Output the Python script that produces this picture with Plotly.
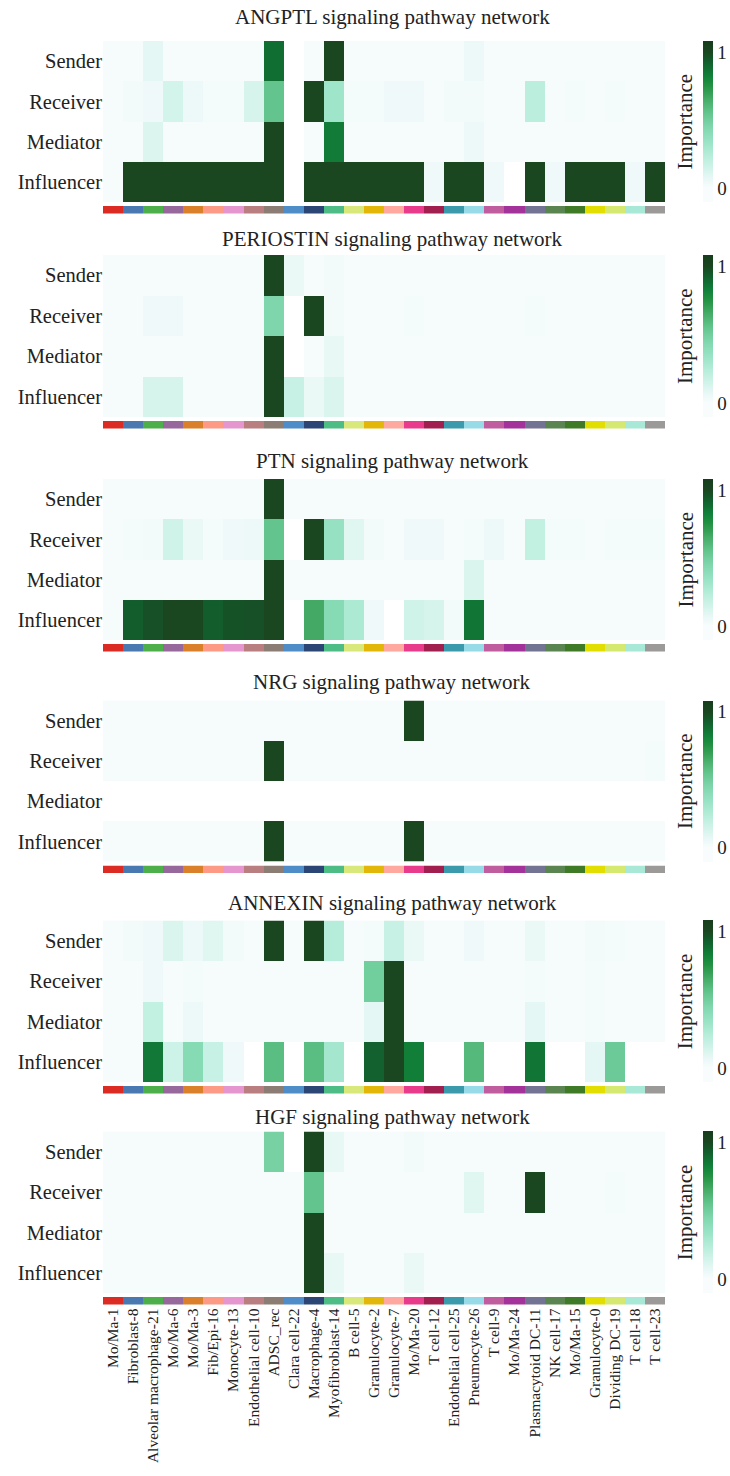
import plotly.graph_objects as go

# Cell groups (columns) and their annotation colours
cell_types = [
    "Mo/Ma-1", "Fibroblast-8", "Alveolar macrophage-21", "Mo/Ma-6", "Mo/Ma-3",
    "Fib/Epi-16", "Monocyte-13", "Endothelial cell-10", "ADSC_rec", "Clara cell-22",
    "Macrophage-4", "Myofibroblast-14", "B cell-5", "Granulocyte-2", "Granulocyte-7",
    "Mo/Ma-20", "T cell-12", "Endothelial cell-25", "Pneumocyte-26", "T cell-9",
    "Mo/Ma-24", "Plasmacytoid DC-11", "NK cell-17", "Mo/Ma-15", "Granulocyte-0",
    "Dividing DC-19", "T cell-18", "T cell-23",
]
cell_colors = [
    "#dc2b22", "#4a78b0", "#4daf4a", "#96689c", "#da7f2a", "#fd9a86", "#e596cf",
    "#b97e80", "#8c7d74", "#4f8dc8", "#2b4675", "#4dbd85", "#d9e87a", "#e3b60a",
    "#fea89f", "#e83b8b", "#a01f4e", "#3b9aab", "#97dbe8", "#c05d9f", "#a3329a",
    "#737393", "#5a8550", "#3f7a26", "#e2df00", "#d5e870", "#a8e8d6", "#9c9a98",
]
roles = ["Sender", "Receiver", "Mediator", "Influencer"]

# Network centrality scores (scaled per role); None = no contribution
angptl = [
    [0.01, 0.01, 0.08, 0.01, 0.01, 0.01, 0.01, 0.01, 0.88, None, 0.01, 1.0, 0.01, 0.01,
     0.01, 0.01, 0.01, 0.01, 0.05, 0.01, 0.01, 0.01, 0.01, 0.01, 0.01, 0.01, 0.01, 0.01],
    [0.01, 0.03, 0.04, 0.14, 0.05, 0.02, 0.02, 0.13, 0.55, None, 1.0, 0.32, 0.02, 0.02,
     0.04, 0.04, 0.01, 0.03, 0.03, 0.01, 0.01, 0.22, 0.01, 0.02, 0.01, 0.02, 0.01, 0.01],
    [0.01, 0.01, 0.11, 0.01, 0.01, 0.01, 0.01, 0.01, 1.0, None, 0.01, 0.84, 0.01, 0.01,
     0.01, 0.01, 0.01, 0.01, 0.05, 0.01, 0.01, 0.01, 0.01, 0.01, 0.01, 0.01, 0.01, 0.01],
    [0.01, 1.0, 1.0, 1.0, 1.0, 1.0, 1.0, 1.0, 1.0, None, 1.0, 1.0, 1.0, 1.0,
     1.0, 1.0, 0.04, 1.0, 1.0, 0.04, None, 1.0, 0.04, 1.0, 1.0, 1.0, 0.04, 1.0],
]
periostin = [
    [0.01, 0.01, 0.01, 0.01, 0.01, 0.01, 0.01, 0.01, 1.0, 0.06, 0.01, 0.03, 0.01, 0.01,
     0.01, 0.01, 0.01, 0.01, 0.01, 0.01, 0.01, 0.01, 0.01, 0.01, 0.01, 0.01, 0.01, 0.01],
    [0.01, 0.01, 0.04, 0.04, 0.01, 0.01, 0.01, 0.01, 0.45, None, 1.0, 0.03, 0.01, 0.01,
     0.01, 0.02, 0.01, 0.01, 0.01, 0.01, 0.01, 0.02, 0.01, 0.01, 0.01, 0.01, 0.01, 0.01],
    [0.01, 0.01, 0.01, 0.01, 0.01, 0.01, 0.01, 0.01, 1.0, None, 0.01, 0.07, 0.01, 0.01,
     0.01, 0.01, 0.01, 0.01, 0.01, 0.01, 0.01, 0.01, 0.01, 0.01, 0.01, 0.01, 0.01, 0.01],
    [0.01, 0.01, 0.13, 0.13, 0.01, 0.01, 0.01, 0.01, 1.0, 0.18, 0.06, 0.12, 0.01, 0.01,
     0.01, 0.01, 0.01, 0.01, 0.01, 0.01, 0.01, 0.01, 0.01, 0.01, 0.01, 0.01, 0.01, 0.01],
]
ptn = [
    [0.01, 0.01, 0.01, 0.01, 0.01, 0.01, 0.01, 0.01, 1.0, 0.01, 0.01, 0.01, 0.01, 0.01,
     0.01, 0.01, 0.01, 0.01, 0.01, 0.01, 0.01, 0.01, 0.01, 0.01, 0.01, 0.01, 0.01, 0.01],
    [0.01, 0.02, 0.03, 0.15, 0.06, 0.02, 0.04, 0.05, 0.55, None, 1.0, 0.36, 0.1, 0.03,
     0.01, 0.04, 0.04, 0.01, 0.02, 0.05, 0.01, 0.2, 0.02, 0.02, 0.01, 0.02, 0.02, 0.02],
    [0.01, 0.01, 0.01, 0.01, 0.01, 0.01, 0.01, 0.01, 1.0, 0.01, 0.01, 0.01, 0.01, 0.01,
     0.01, 0.01, 0.01, 0.01, 0.12, 0.01, 0.01, 0.01, 0.01, 0.01, 0.01, 0.01, 0.01, 0.01],
    [0.01, 0.93, 0.97, 1.0, 1.0, 0.93, 0.96, 0.97, 1.0, None, 0.66, 0.42, 0.27, 0.04,
     None, 0.15, 0.13, 0.03, 0.86, 0.01, 0.01, 0.01, 0.01, 0.01, 0.01, 0.01, 0.01, 0.01],
]
nrg = [
    [0.01, 0.01, 0.01, 0.01, 0.01, 0.01, 0.01, 0.01, 0.01, 0.01, 0.01, 0.01, 0.01, 0.01,
     0.01, 1.0, 0.01, 0.01, 0.01, 0.01, 0.01, 0.01, 0.01, 0.01, 0.01, 0.01, 0.01, 0.01],
    [0.01, 0.01, 0.01, 0.01, 0.01, 0.01, 0.01, 0.01, 1.0, 0.01, 0.01, 0.01, 0.01, 0.01,
     0.01, 0.01, 0.01, 0.01, 0.01, 0.01, 0.01, 0.01, 0.01, 0.01, 0.01, 0.01, 0.01, 0.02],
    [None, None, None, None, None, None, None, None, None, None, None, None, None, None,
     None, None, None, None, None, None, None, None, None, None, None, None, None, None],
    [0.01, 0.01, 0.01, 0.01, 0.01, 0.01, 0.01, 0.01, 1.0, 0.01, 0.01, 0.01, 0.01, 0.01,
     0.01, 1.0, 0.01, 0.01, 0.01, 0.01, 0.01, 0.01, 0.01, 0.01, 0.01, 0.01, 0.01, 0.01],
]
annexin = [
    [0.01, 0.03, 0.04, 0.12, 0.05, 0.1, 0.03, 0.01, 1.0, 0.01, 1.0, 0.24, 0.01, 0.02,
     0.18, 0.06, 0.01, 0.01, 0.04, 0.01, 0.01, 0.06, 0.01, 0.01, 0.03, 0.02, 0.01, 0.01],
    [0.01, 0.01, 0.04, 0.01, 0.02, 0.01, 0.01, 0.01, 0.01, 0.01, 0.01, 0.01, 0.01, 0.5,
     1.0, 0.01, 0.01, 0.01, 0.01, 0.01, 0.01, 0.02, 0.01, 0.01, 0.02, 0.01, 0.01, 0.01],
    [0.01, 0.01, 0.2, 0.01, 0.05, 0.01, 0.01, 0.01, 0.01, 0.01, 0.01, 0.01, 0.01, 0.08,
     1.0, 0.01, 0.01, 0.01, 0.01, 0.01, 0.01, 0.08, 0.01, 0.01, 0.02, 0.01, 0.01, 0.01],
    [0.01, 0.01, 0.85, 0.16, 0.42, 0.18, 0.04, None, 0.58, None, 0.58, 0.3, None, 0.92,
     1.0, 0.83, None, None, 0.6, None, None, 0.86, None, None, 0.08, 0.52, None, None],
]
hgf = [
    [0.01, 0.01, 0.01, 0.01, 0.01, 0.01, 0.01, 0.01, 0.48, None, 1.0, 0.07, 0.01, 0.01,
     0.01, 0.03, 0.01, 0.01, 0.01, 0.01, 0.01, 0.01, 0.01, 0.01, 0.01, 0.01, 0.01, 0.01],
    [0.01, 0.01, 0.01, 0.01, 0.01, 0.01, 0.01, 0.01, 0.01, 0.01, 0.55, 0.01, 0.01, 0.01,
     0.01, 0.01, 0.01, 0.01, 0.1, 0.01, 0.01, 1.0, 0.01, 0.01, 0.01, 0.02, 0.01, 0.01],
    [0.01, 0.01, 0.01, 0.01, 0.01, 0.01, 0.01, 0.01, 0.01, 0.01, 1.0, 0.01, 0.01, 0.01,
     0.01, 0.01, 0.01, 0.01, 0.01, 0.01, 0.01, 0.01, 0.01, 0.01, 0.01, 0.01, 0.01, 0.01],
    [0.01, 0.01, 0.01, 0.01, 0.01, 0.01, 0.01, 0.01, 0.01, 0.01, 1.0, 0.07, 0.01, 0.01,
     0.01, 0.06, 0.01, 0.01, 0.01, 0.01, 0.01, 0.01, 0.01, 0.01, 0.01, 0.01, 0.01, 0.01],
]

pathways = ["ANGPTL", "PERIOSTIN", "PTN", "NRG", "ANNEXIN", "HGF"]
matrices = [angptl, periostin, ptn, nrg, annexin, hgf]

# ---- geometry (pixels) ----
W, H = 730, 1476
X0, X1 = 103, 665
heat_top = [41, 255, 479, 700.5, 920.5, 1131.5]
heat_bot = [202, 417, 640, 861.5, 1082, 1293]
title_y = [17, 239, 461, 682, 903, 1117]
STRIP_GAP, STRIP_H = 4, 7.5
CB_X = 703

FONT = "Liberation Serif"
TXT = "#222222"

ZMIN, ZMAX = -0.103, 1.081
stops_v = [ZMIN, 0.0, 0.03, 0.08, 0.15, 0.25, 0.35, 0.45, 0.55, 0.65, 0.75, 0.82,
           0.88, 0.94, 1.0, ZMAX]
stops_c = ["#f8fcfd", "#f8fcfd", "#f2fafa", "#e5f7f4", "#d0f3e9", "#b3ecd8", "#97e2c4",
           "#7fd6ad", "#63c58d", "#46ac68", "#249243", "#12823a", "#116e33", "#135a2b",
           "#1a4620", "#173d1c"]
importance_scale = [[(v - ZMIN) / (ZMAX - ZMIN), c] for v, c in zip(stops_v, stops_c)]
strip_scale = [[k / (len(cell_colors) - 1), c] for k, c in enumerate(cell_colors)]


def py(px):
    return 1 - px / H


fig = go.Figure()
xs = list(range(len(cell_types)))
layout_axes = {}
annotations = []

for i, (name, mat) in enumerate(zip(pathways, matrices)):
    hy = f"y{2 * i + 1}"
    sy = f"y{2 * i + 2}"
    top, bot = heat_top[i], heat_bot[i]
    fig.add_trace(go.Heatmap(
        z=mat, x=xs, y=list(range(4)), xaxis="x", yaxis=hy,
        colorscale=importance_scale, zmin=ZMIN, zmax=ZMAX,
        hoverongaps=False,
        colorbar=dict(
            x=CB_X / W, xanchor="left", xpad=0,
            y=py((top + bot) / 2), yanchor="middle", ypad=0,
            len=(bot - top) / H, lenmode="fraction",
            thickness=10, thicknessmode="pixels", outlinewidth=0,
            tickvals=[0, 1], ticktext=["0", "1"], ticks="",
            tickfont=dict(family=FONT, size=19, color=TXT),
        ),
    ))
    s_top = bot + STRIP_GAP
    s_bot = s_top + STRIP_H
    fig.add_trace(go.Heatmap(
        z=[xs], x=xs, y=[0], xaxis="x", yaxis=sy,
        colorscale=strip_scale, zmin=0, zmax=len(cell_colors) - 1,
        showscale=False, hoverinfo="skip",
    ))
    layout_axes["yaxis" if i == 0 else f"yaxis{2 * i + 1}"] = dict(
        domain=[py(bot), py(top)], anchor="x", range=[3.5, -0.5],
        tickvals=[0, 1, 2, 3], ticktext=roles, ticks="",
        showgrid=False, zeroline=False, showline=False,
        tickfont=dict(family=FONT, size=20.5, color=TXT),
    )
    layout_axes[f"yaxis{2 * i + 2}"] = dict(
        domain=[py(s_bot), py(s_top)], anchor="x", range=[-0.5, 0.5],
        showticklabels=False, ticks="", showgrid=False, zeroline=False,
    )
    annotations.append(dict(
        text=f"{name} signaling pathway network", x=392 / W, y=py(title_y[i]),
        xref="paper", yref="paper", xanchor="center", yanchor="middle",
        showarrow=False, font=dict(family=FONT, size=21, color=TXT),
    ))
    annotations.append(dict(
        text="Importance", x=685 / W, y=py((top + bot) / 2),
        xref="paper", yref="paper", xanchor="center", yanchor="middle",
        textangle=-90, showarrow=False, font=dict(family=FONT, size=21, color=TXT),
    ))

fig.update_layout(
    width=W, height=H, margin=dict(l=0, r=0, t=0, b=0),
    paper_bgcolor="white", plot_bgcolor="white",
    xaxis=dict(
        domain=[X0 / W, X1 / W], anchor="y12", range=[-0.5, len(cell_types) - 0.5],
        tickvals=xs, ticktext=cell_types, tickangle=-90, ticks="",
        showgrid=False, zeroline=False, showline=False,
        tickfont=dict(family=FONT, size=15.5, color=TXT),
    ),
    annotations=annotations,
    **layout_axes,
)

fig.write_html("out.html")
